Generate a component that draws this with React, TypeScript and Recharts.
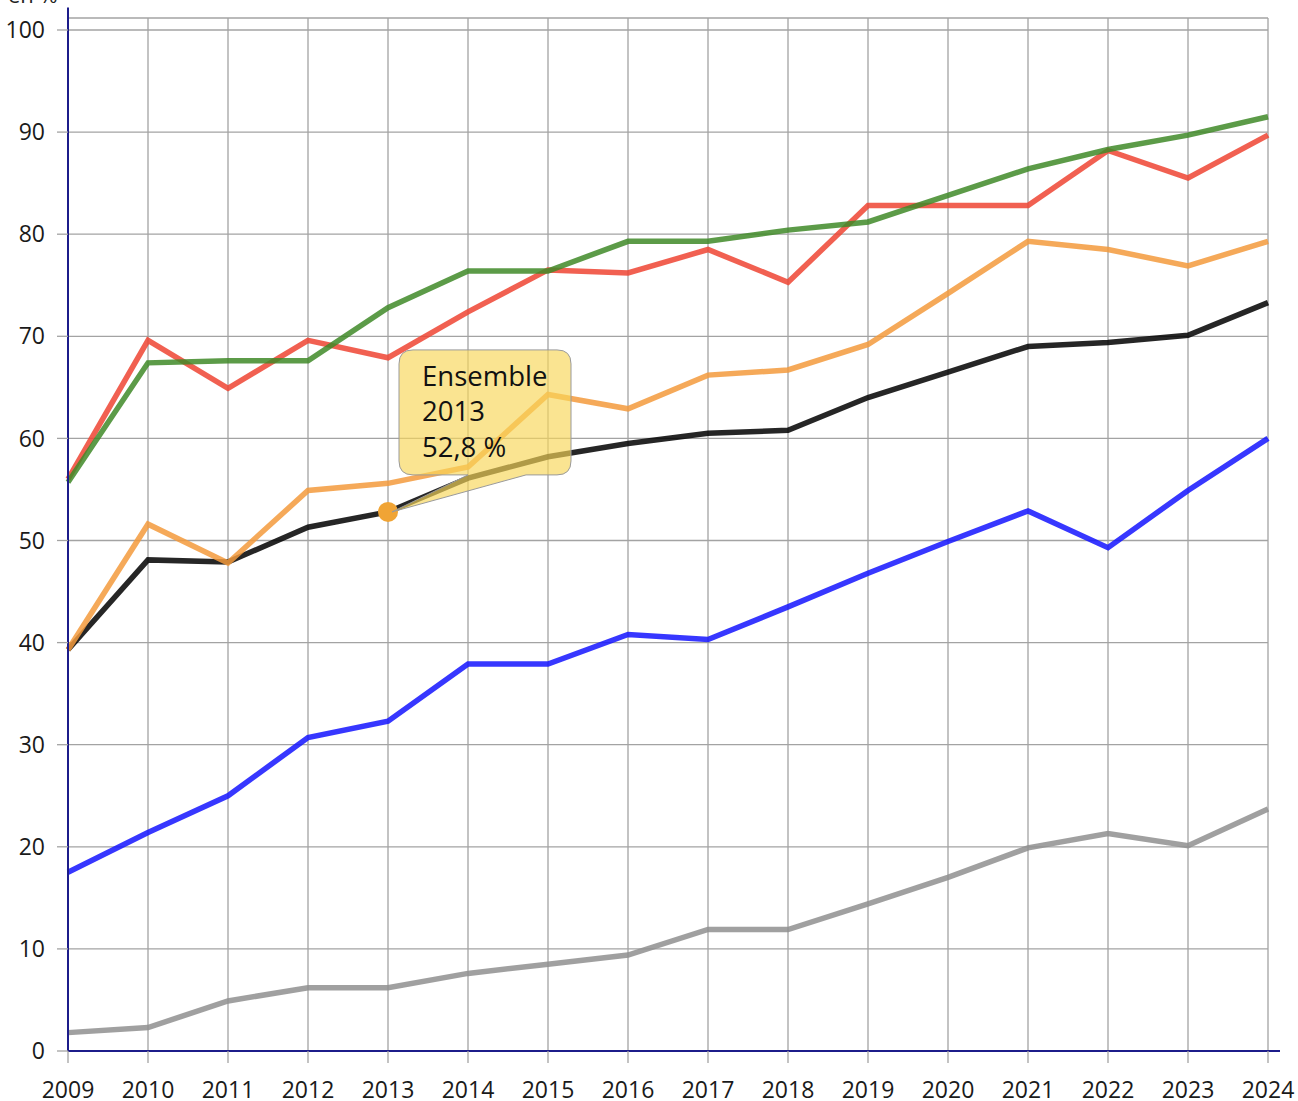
import React from "react";
import { LineChart, Line, XAxis, YAxis, CartesianGrid, ReferenceLine } from "recharts";

const years = [2009, 2010, 2011, 2012, 2013, 2014, 2015, 2016, 2017, 2018, 2019, 2020, 2021, 2022, 2023, 2024];
const yTicks = [0, 10, 20, 30, 40, 50, 60, 70, 80, 90, 100];

const redSeries = [56.0, 69.6, 64.9, 69.6, 67.9, 72.4, 76.5, 76.2, 78.5, 75.3, 82.8, 82.8, 82.8, 88.2, 85.5, 89.7];
const greenSeries = [55.7, 67.4, 67.6, 67.6, 72.8, 76.4, 76.4, 79.3, 79.3, 80.4, 81.2, 83.8, 86.4, 88.3, 89.7, 91.5];
const orangeSeries = [39.3, 51.6, 47.8, 54.9, 55.6, 57.2, 64.3, 62.9, 66.2, 66.7, 69.2, 74.2, 79.3, 78.5, 76.9, 79.3];
const ensembleSeries = [39.3, 48.1, 47.9, 51.3, 52.8, 56.1, 58.2, 59.5, 60.5, 60.8, 64.0, 66.5, 69.0, 69.4, 70.1, 73.3];
const blueSeries = [17.5, 21.4, 25.0, 30.7, 32.3, 37.9, 37.9, 40.8, 40.3, 43.5, 46.8, 49.9, 52.9, 49.3, 54.9, 60.0];
const graySeries = [1.8, 2.3, 4.9, 6.2, 6.2, 7.6, 8.5, 9.4, 11.9, 11.9, 14.4, 17.0, 19.9, 21.3, 20.1, 23.7];

const tooltipIndex = 4;

const data = years.map((year, i) => ({
  year,
  red: redSeries[i],
  green: greenSeries[i],
  orange: orangeSeries[i],
  ensemble: ensembleSeries[i],
  blue: blueSeries[i],
  gray: graySeries[i],
}));

const FONT = "'Open Sans', 'Noto Sans', sans-serif";
const NAVY = "#1c1c8a";
const GRID = "#a3a3a3";

const fmt = (v: number) => v.toFixed(1).replace(".", ",");

const TooltipDot = (props: any) => {
  const { cx, cy, index } = props;
  if (index !== tooltipIndex || cx == null || cy == null) return <g key={`d${index}`} />;
  const x0 = cx + 11;
  const x1 = cx + 183;
  const y0 = cy - 162;
  const y1 = cy - 37;
  const r = 14;
  const t0 = cx + 80;
  const t1 = cx + 138;
  const d = [
    `M ${x0 + r} ${y0}`,
    `L ${x1 - r} ${y0}`,
    `Q ${x1} ${y0} ${x1} ${y0 + r}`,
    `L ${x1} ${y1 - r}`,
    `Q ${x1} ${y1} ${x1 - r} ${y1}`,
    `L ${t1} ${y1}`,
    `L ${cx + 4} ${cy}`,
    `L ${t0} ${y1}`,
    `L ${x0 + r} ${y1}`,
    `Q ${x0} ${y1} ${x0} ${y1 - r}`,
    `L ${x0} ${y0 + r}`,
    `Q ${x0} ${y0} ${x0 + r} ${y0}`,
    "Z",
  ].join(" ");
  return (
    <g key={`d${index}`}>
      <circle cx={cx} cy={cy} r={10} fill="#f0a435" />
      <path d={d} fill="rgba(247,214,88,0.66)" stroke="#9a9a9a" strokeWidth={1} />
      <text x={cx + 34} y={cy - 126} fontSize={27.5} fontFamily={FONT} fill="#111">Ensemble</text>
      <text x={cx + 34} y={cy - 91} fontSize={27.5} fontFamily={FONT} fill="#111">{years[index]}</text>
      <text x={cx + 34} y={cy - 55} fontSize={27.5} fontFamily={FONT} fill="#111">{`${fmt(ensembleSeries[index])} %`}</text>
    </g>
  );
};

export default function App() {
  const lineCommon = { type: "linear" as const, strokeWidth: 5.5, strokeOpacity: 0.85, dot: false, activeDot: false, isAnimationActive: false };
  return (
    <div style={{ position: "absolute", left: 0, top: 0, width: 1298, height: 1101, background: "#fff" }}>
      <LineChart width={1298} height={1101} data={data} margin={{ top: 18, right: 30, bottom: 10, left: 8 }}>
        <text x={8} y={3} fontSize={22} fontFamily={FONT} fill="#222">en %</text>
        <CartesianGrid stroke={GRID} strokeWidth={1.3} />
        <XAxis
          dataKey="year"
          type="number"
          domain={[2009, 2024]}
          ticks={years}
          interval={0}
          height={40}
          axisLine={false}
          tickSize={12}
          tickMargin={19}
          tickLine={{ stroke: GRID, strokeWidth: 1.3 }}
          tick={{ fontSize: 23, fontFamily: FONT, fill: "#1a1a1a" }}
        />
        <YAxis
          type="number"
          domain={[0, 101.175]}
          ticks={yTicks}
          interval={0}
          width={60}
          axisLine={false}
          tickSize={11}
          tickMargin={12}
          tickLine={{ stroke: GRID, strokeWidth: 1.3 }}
          tick={{ fontSize: 23, fontFamily: FONT, fill: "#1a1a1a" }}
        />
        <Line {...lineCommon} dataKey="gray" stroke="#8f8f8f" />
        <Line {...lineCommon} dataKey="blue" stroke="#1414ff" />
        <Line {...lineCommon} dataKey="ensemble" stroke="#000000" />
        <Line {...lineCommon} dataKey="orange" stroke="#f39a3c" />
        <Line {...lineCommon} dataKey="red" stroke="#ee4433" />
        <Line {...lineCommon} dataKey="green" stroke="#3f8a28" />
        <ReferenceLine segment={[{ x: 2009, y: 0 }, { x: 2009, y: 102.2 }]} ifOverflow="visible" stroke={NAVY} strokeWidth={2} />
        <ReferenceLine segment={[{ x: 2009, y: 0 }, { x: 2024.15, y: 0 }]} ifOverflow="visible" stroke={NAVY} strokeWidth={2} />
        <Line
          dataKey="ensemble"
          stroke="none"
          dot={TooltipDot}
          activeDot={false}
          isAnimationActive={false}
          legendType="none"
        />
      </LineChart>
    </div>
  );
}
